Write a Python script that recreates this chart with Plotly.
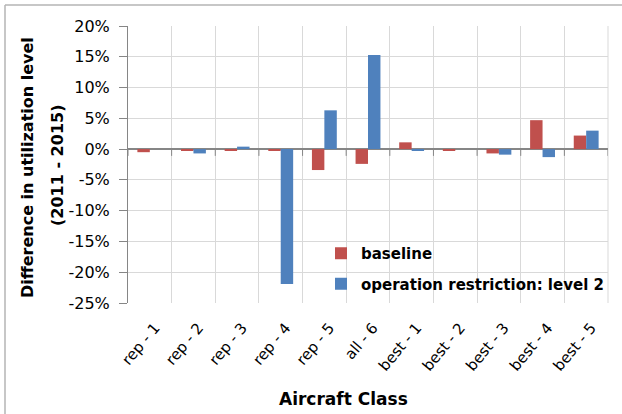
import plotly.graph_objects as go

# Aircraft classes and change in utilization level (percent, 2011 -> 2015)
classes = ["rep - 1", "rep - 2", "rep - 3", "rep - 4", "rep - 5", "all - 6",
           "best - 1", "best - 2", "best - 3", "best - 4", "best - 5"]
baseline = [-0.5, -0.3, -0.3, -0.3, -3.4, -2.4, 1.1, -0.3, -0.7, 4.7, 2.2]
restriction_l2 = [0.0, -0.7, 0.4, -21.9, 6.3, 15.3, -0.3, 0.0, -0.9, -1.3, 3.0]
y_ticks = [-25, -20, -15, -10, -5, 0, 5, 10, 15, 20]
y_ticktext = [f"{v}%" for v in y_ticks]

RED = "#C0504D"
BLUE = "#4F81BD"
AXIS = "#868686"
GRID = "#D9D9D9"
FONT = "DejaVu Sans"

W, H = 622, 414
L, R, T, B = 128, 14, 26, 111

fig = go.Figure()
fig.add_bar(x=classes, y=baseline, name="baseline", marker_color=RED,
            marker_line_width=0, legendgroup="a")
fig.add_bar(x=classes, y=restriction_l2, name="operation restriction: level 2",
            marker_color=BLUE, marker_line_width=0, legendgroup="b")

# tick marks hanging below the zero axis at category boundaries
shapes = []
for i in range(len(classes) + 1):
    shapes.append(dict(type="line", xref="x", yref="y",
                       x0=i - 0.5, x1=i - 0.5, y0=0, y1=-1.1,
                       line=dict(color=AXIS, width=1)))
# right edge gridline of the plot area
shapes.append(dict(type="line", xref="paper", yref="paper", x0=1, x1=1, y0=0, y1=1,
                   line=dict(color=GRID, width=1), layer="below"))

# outer chart frame (top and left edges)
pw, ph = W - L - R, H - T - B
def px(xp):
    return (xp - L) / pw
def py(yp):
    return (H - B - yp) / ph
shapes.append(dict(type="line", xref="paper", yref="paper",
                   x0=px(5), x1=px(W + 5), y0=py(5), y1=py(5),
                   line=dict(color="#B4B4B4", width=1.5)))
shapes.append(dict(type="line", xref="paper", yref="paper",
                   x0=px(5), x1=px(5), y0=py(5), y1=py(H + 5),
                   line=dict(color="#B4B4B4", width=1.5)))

annotations = [
    dict(text="<b>Difference in utilization level</b>", xref="paper", yref="paper",
         x=px(27), y=py(168), xanchor="center", yanchor="middle", textangle=-90,
         showarrow=False, font=dict(family=FONT, size=16, color="black")),
    dict(text="<b>(2011 - 2015)</b>", xref="paper", yref="paper",
         x=px(57), y=py(166), xanchor="center", yanchor="middle", textangle=-90,
         showarrow=False, font=dict(family=FONT, size=16, color="black")),
    dict(text="<b>Aircraft Class</b>", xref="paper", yref="paper",
         x=px(343), y=py(399), xanchor="center", yanchor="middle",
         showarrow=False, font=dict(family=FONT, size=17, color="black")),
]

fig.update_layout(
    width=W, height=H,
    margin=dict(l=L, r=R, t=T, b=B, autoexpand=False),
    paper_bgcolor="white", plot_bgcolor="white",
    barmode="group", bargap=0.43, bargroupgap=0,
    font=dict(family=FONT, size=15, color="black"),
    shapes=shapes, annotations=annotations,
    legend=dict(x=px(321), y=py(237), xanchor="left", yanchor="top",
                bgcolor="rgba(0,0,0,0)",
                font=dict(family=FONT, size=15, weight="bold"),
                itemwidth=30, traceorder="grouped", tracegroupgap=8),
)
fig.update_xaxes(
    type="category", categoryorder="array", categoryarray=classes,
    range=[-0.5, len(classes) - 0.5],
    tickson="boundaries", ticks="", showgrid=True, gridcolor=GRID, gridwidth=1,
    tickangle=-50, tickfont=dict(family=FONT, size=15), showline=False,
    ticklabelstandoff=12, ticklabelshift=5,
    zeroline=False, automargin=False,
)
fig.update_yaxes(
    range=[-25, 20], tickvals=y_ticks, ticktext=y_ticktext,
    showgrid=True, gridcolor=GRID, gridwidth=1,
    showline=True, linecolor=AXIS, linewidth=1,
    ticks="outside", ticklen=8, tickcolor=AXIS, ticklabelstandoff=6,
    zeroline=True, zerolinecolor=AXIS, zerolinewidth=1.5,
    tickfont=dict(family=FONT, size=16), automargin=False,
)

fig.write_html("out.html")
